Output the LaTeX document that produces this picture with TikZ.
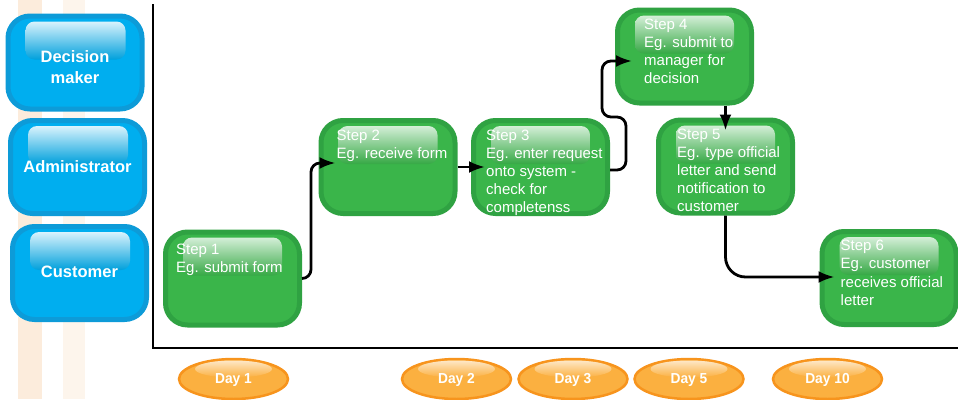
\documentclass[tikz,border=0pt]{standalone}
\usepackage{fontspec}
\setmainfont{Liberation Sans}
\newfontfamily\dayfont{Liberation Sans}[FakeStretch=0.95]
\usepackage{tikz}
\usetikzlibrary{positioning}
\usetikzlibrary{calc,shapes.geometric,arrows.meta}
\definecolor{rolefill}{RGB}{0,174,239}
\definecolor{roleedge}{RGB}{13,155,216}
\definecolor{stepfill}{RGB}{58,181,74}
\definecolor{stepedge}{RGB}{47,162,66}
\definecolor{dayfill}{RGB}{251,176,64}
\definecolor{dayedge}{RGB}{247,148,29}
\definecolor{stripe}{RGB}{252,236,220}
\tikzstyle{rolebox}=[rectangle,rounded corners=22pt,fill=rolefill,draw=roleedge,line width=5pt,minimum width=134pt,minimum height=93pt,inner sep=0pt]
\tikzstyle{roletext}=[inner sep=0pt,text=white,align=center,font=\fontsize{16.5}{21}\selectfont\bfseries]
\tikzstyle{rolegloss}=[rounded corners=9pt,top color=white!85!rolefill,bottom color=rolefill!92!black]
\tikzstyle{stepbox}=[rectangle,rounded corners=22pt,fill=stepfill,draw=stepedge,line width=5pt,minimum width=134pt,minimum height=93pt,inner sep=0pt]
\tikzstyle{steptext}=[anchor=north west,inner sep=0pt,text=white,align=left,font=\fontsize{15}{18.2}\selectfont]
\tikzstyle{stepgloss}=[rounded corners=9pt,top color=white!78!stepfill,bottom color=stepfill!93!black]
\tikzstyle{daynode}=[ellipse,fill=dayfill,draw=dayedge,line width=2.5pt,minimum width=109pt,minimum height=40pt,inner sep=0pt]
\tikzstyle{daytext}=[inner sep=0pt,text=white,font=\dayfont\bfseries\fontsize{14.5}{17}\selectfont]
\tikzstyle{daygloss}=[top color=white!70!dayfill,bottom color=dayfill]
\tikzstyle{flow}=[-{Latex[length=16pt,width=12pt]},line width=2.8pt]
\tikzstyle{axis}=[line width=2.5pt]

\begin{document}
\begin{tikzpicture}[x=1pt,y=-1pt]
\useasboundingbox (0,0) rectangle (958,399);

%Background
\fill[stripe] (18,0) rectangle (42,399);
\fill[stripe!55!white] (63,0) rectangle (85,399);

%Axes
\coordinate (ytop) at (153,4);
\coordinate (origin) at (153,348);
\coordinate (xend) at (958,348);
\draw[axis] (ytop) -- (origin) -- (xend);

%Roles
    \foreach \pos/\name/\ty/\label in {{(75,62.5)/dm/5/{Decision\\maker}}, {(77.5,167)/ad/0/Administrator}, {(79.5,273)/cu/-1/Customer}}
    {
        \node[rolebox] (\name) at \pos {};
        \shade[rolegloss] ($(\name.north west)+(20,8)$) rectangle ($(\name.north east)+(-19,46)$);
        \node[roletext] (\name t) at ($(\name.center)+(0,\ty)$) {\label};
    }

%Steps
    \foreach \pos/\name/\tx/\ty/\label in {{(232.5,278.5)/s1/13/14.5/{Step 1\\Eg. submit form}},
        {(388,167)/s2/18/11.5/{Step 2\\Eg. receive form}},
        {(540.5,167)/s3/15/11.5/{Step 3\\Eg. enter request\\onto system -\\check for\\completenss}},
        {(684.5,56.5)/s4/29/11/{Step 4\\Eg. submit to\\manager for\\decision}},
        {(725.5,166.5)/s5/21/11/{Step 5\\Eg. type official\\letter and send\\notification to\\customer}},
        {(889,278)/s6/21/11/{Step 6\\Eg. customer\\receives official\\letter}}}
    {
        \node[stepbox] (\name) at \pos {};
        \shade[stepgloss] ($(\name.north west)+(20,8)$) rectangle ($(\name.north east)+(-20,46)$);
        \node[steptext] (\name t) at ($(\name.north west)+(\tx,\ty)$) {\label};
    }

%Days
    \foreach \pos/\name/\label in {{(233.5,379)/d1/Day 1}, {(456.5,379)/d2/Day 2}, {(573,379)/d3/Day 3}, {(689,379)/d5/Day 5}, {(827.5,379)/d10/Day 10}}
    {
        \node[daynode] (\name) at \pos {};
        \shade[daygloss] ($(\name.center)+(0,-10)$) ellipse [x radius=38.5, y radius=8.5];
        \node[daytext] (\name t) at ($(\name.center)+(0,1)$) {\label};
    }

%Flow
\draw[flow] (s1.east) [rounded corners=9pt] -- ++(9,0) |- ($(s2.west)+(17,-4)$);
\draw[flow] (s2.east) -- ($(s3.west)+(14,0)$);
\draw[flow] ([yshift=-3pt]s3.east) [rounded corners=9pt] -- ++(16,0) -- ++(0,-53) -- ++(-24,0) |- ($(s4.west)+(17,4.5)$);
\draw[flow] (s4.south -| s5.north) -- ([yshift=-13pt]s5.north);
\draw[flow] (s5.south) [rounded corners=20pt] |- ($(s6.west)+(15,-1)$);

\end{tikzpicture}
\end{document}
